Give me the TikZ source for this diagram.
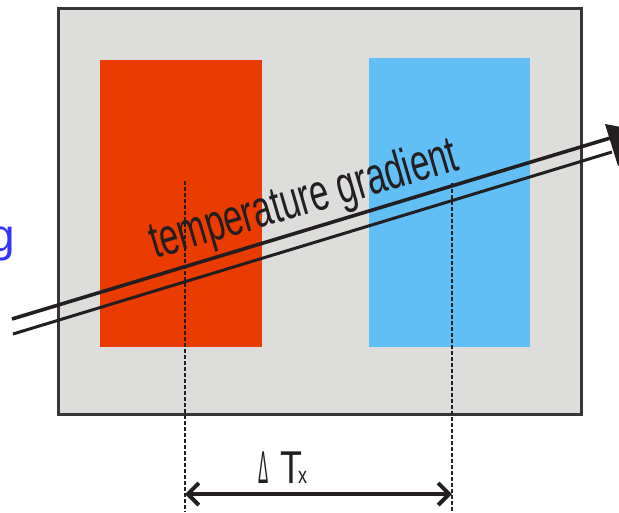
\documentclass[tikz,border=0pt]{standalone}
\usepackage{fontspec}
\setmainfont{Liberation Sans}
\usetikzlibrary{arrows.meta}
\definecolor{panelgray}{RGB}{221,221,219}
\definecolor{hotred}{RGB}{235,60,0}
\definecolor{coldblue}{RGB}{97,191,245}
\definecolor{inkdark}{RGB}{35,31,32}
\definecolor{labelblue}{RGB}{51,51,255}
\tikzset{
  panel/.style={fill=panelgray, draw=inkdark!90, line width=3pt},
  block/.style={draw=none},
  guide/.style={inkdark, line width=2.6pt, dash pattern=on 4pt off 2pt},
  gradline/.style={inkdark, line width=3.6pt},
  dimline/.style={inkdark, line width=4pt, {Straight Barb[length=11pt,width=22pt]}-{Straight Barb[length=11pt,width=22pt]}},
}
\begin{document}
\begin{tikzpicture}[x=1pt,y=-1pt]
\useasboundingbox (0,0) rectangle (619,512);
\clip (0,0) rectangle (619,512);
% panel and blocks
\node[panel, minimum width=523pt, minimum height=406pt, anchor=north west, inner sep=0pt] (panel) at (57,7) {};
\node[block, fill=hotred, minimum width=162pt, minimum height=287pt, anchor=north west, inner sep=0pt] (hot) at (100,60) {};
\node[block, fill=coldblue, minimum width=161pt, minimum height=289pt, anchor=north west, inner sep=0pt] (cold) at (369,58) {};
% guide lines
\coordinate (g1top) at (185,181);
\coordinate (g1bot) at (185,512);
\coordinate (g2top) at (452,183);
\coordinate (g2bot) at (452,512);
\draw[guide] (g1top) -- (g1bot);
\draw[guide] (g2top) -- (g2bot);
% dimension
\coordinate (d1) at (185,494);
\coordinate (d2) at (452,494);
\draw[dimline] (d1) -- (d2);
\node[anchor=base west, inner sep=0pt, font=\fontsize{46}{46}\selectfont, text=inkdark] (delta) at (258,483) {\scalebox{0.33}[1]{Δ}};
\node[anchor=base west, inner sep=0pt, font=\fontsize{46}{46}\selectfont, text=inkdark] (tt) at (280,483) {\scalebox{0.78}[1]{T}};
\node[anchor=base west, inner sep=0pt, font=\fontsize{23}{23}\selectfont, text=inkdark] (tx) at (298,483) {\scalebox{0.78}[1]{x}};
% text
\node[anchor=base west, inner sep=0pt, rotate=16.3, font=\fontsize{52}{52}\selectfont, text=inkdark] (tg) at (155,259) {\scalebox{0.66}[1]{temperature gradient}};
% blue partial label
\node[anchor=base east, inner sep=0pt, font=\fontsize{46}{46}\selectfont, text=labelblue] (gl) at (15,251) {g};
% gradient arrow
\coordinate (a1) at (12,319);
\coordinate (a2) at (612,137.5);
\coordinate (b1) at (13,334);
\coordinate (b2) at (612,152);
\draw[gradline] (a1) -- (a2);
\draw[gradline, line width=3pt] (b1) -- (b2);
\coordinate (hb1) at (605,124);
\coordinate (hb2) at (618,166);
\coordinate (tip) at (652,133);
\fill[inkdark] (hb1) -- (tip) -- (hb2) -- cycle;
\end{tikzpicture}
\end{document}
